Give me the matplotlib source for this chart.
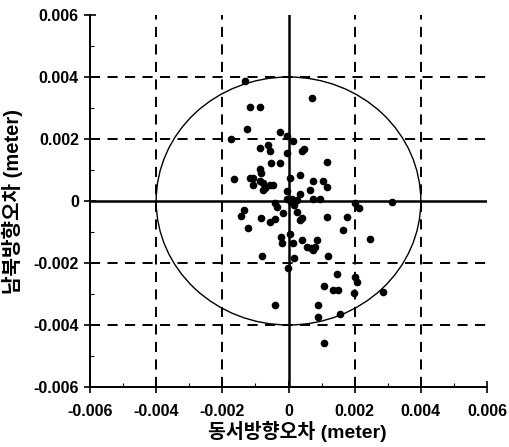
import numpy as np
import matplotlib
matplotlib.use("Agg")
import matplotlib.pyplot as plt
from matplotlib.patches import Ellipse

# data in mm (x 0.001 m)
east_mm = [-1.30, -1.16, -0.86, 0.71, -1.26, -1.74, -0.26, -0.05, 0.14, -0.63,
           -0.86, -0.57, 0.41, 0.48, -0.05, -0.53, -0.26, 1.15, -0.85, -0.82,
           -1.65, -1.16, -1.06, -0.86, -0.76, -1.06, -0.56, -0.47, -0.76, -0.71,
           0.05, 0.35, 0.75, 1.05, 1.15, -0.05, 0.66, 0.35, 0.11, 0.25,
           -0.41, -0.36, 0.75, 0.95, 2.02, 2.13, 3.14, 0.18, 0.25, -0.16,
           -1.34, -1.44, -0.83, -0.56, -0.42, -1.22, 0.35, 0.40, 1.15, 1.76,
           1.66, 2.46, -0.24, -0.21, 0.05, 0.15, 0.40, 0.85, 0.55, 0.68,
           0.80, 0.74, 0.17, 1.18, -0.81, -0.03, 1.46, 2.01, 2.06, 1.07,
           1.35, 1.49, 1.99, 2.85, -0.41, 0.88, 0.88, 1.56, -0.06, 0.08,
           1.08]
north_mm = [3.87, 3.04, 3.04, 3.33, 2.33, 2.00, 2.22, 2.10, 1.94, 1.81,
            1.72, 1.60, 1.60, 1.67, 1.55, 1.22, 1.22, 1.25, 1.02, 0.91,
            0.71, 0.73, 0.74, 0.63, 0.57, 0.53, 0.52, 0.53, 0.36, 0.42,
            0.73, 0.84, 0.64, 0.64, 0.44, 0.32, 0.34, 0.24, 0.08, 0.03,
            -0.07, -0.18, 0.05, 0.05, -0.08, -0.23, -0.03, -0.13, -0.36, -0.40,
            -0.28, -0.47, -0.56, -0.67, -0.59, -0.87, -0.61, -0.55, -0.51, -0.51,
            -0.94, -1.24, -1.16, -1.37, -1.08, -1.34, -1.25, -1.26, -1.48, -1.50,
            -1.47, -1.57, -1.85, -1.76, -1.78, -2.15, -2.36, -2.46, -2.61, -2.75,
            -2.86, -2.86, -2.96, -2.95, -3.37, -3.35, -3.74, -3.64, 0.06, -0.03,
            -4.57]
east = np.array(east_mm) / 1000.0
north = np.array(north_mm) / 1000.0

tick_values = [-0.006, -0.004, -0.002, 0, 0.002, 0.004, 0.006]
tick_labels = ["-0.006", "-0.004", "-0.002", "0", "0.002", "0.004", "0.006"]
grid_values = [-0.004, -0.002, 0.002, 0.004]
circle_radius = 0.004
xlabel = "동서방향오차 (meter)"
ylabel = "남북방향오차 (meter)"

fam = ["Liberation Sans", "Noto Sans CJK KR", "DejaVu Sans"]
plt.rcParams["font.family"] = fam

fig = plt.figure(figsize=(5.10, 4.47), dpi=100)
ax = fig.add_axes([90/510, 1-387/447, 397/510, 372/447])
ax.set_xlim(-0.006, 0.006)
ax.set_ylim(-0.006, 0.006)

for v in grid_values:
    ax.axvline(v, color="black", lw=1.4, ls=(0, (5.2, 3.8)), zorder=1)
    ax.axhline(v, color="black", lw=1.4, ls=(0, (5.2, 3.8)), zorder=1)
ax.axvline(0, color="black", lw=1.8, zorder=1)
ax.axhline(0, color="black", lw=1.8, zorder=1)

ax.add_patch(Ellipse((0, 0), 2*circle_radius, 2*circle_radius, fill=False,
                     edgecolor="black", lw=1.0, zorder=2))

ax.plot(east, north, "o", color="black", markersize=4.5, zorder=3)

ax.set_xticks(tick_values)
ax.set_xticklabels(tick_labels)
ax.set_yticks(tick_values)
ax.set_yticklabels(tick_labels)
ax.set_xticks(np.arange(-0.006, 0.0061, 0.001), minor=True)
ax.set_yticks(np.arange(-0.006, 0.0061, 0.001), minor=True)
ax.tick_params(which="major", direction="inout", length=8, width=1.2,
               labelsize=11.5)
ax.tick_params(axis="x", which="major", pad=8)
ax.tick_params(axis="y", which="major", pad=4)
ax.tick_params(which="minor", direction="in", length=3, width=0.8)
for lab in ax.get_xticklabels() + ax.get_yticklabels():
    lab.set_fontweight("bold")

for s in ax.spines.values():
    s.set_linewidth(1.4)
ax.spines["top"].set_visible(False)
ax.spines["right"].set_visible(False)

ax.set_xlabel(xlabel, fontsize=14, fontweight="bold")
ax.xaxis.set_label_coords(0.522, -0.09)
ax.set_ylabel(ylabel, fontsize=14.5, fontweight="bold")
ax.yaxis.set_label_coords(-0.17, 0.5)

fig.savefig("out.png", dpi=100)
